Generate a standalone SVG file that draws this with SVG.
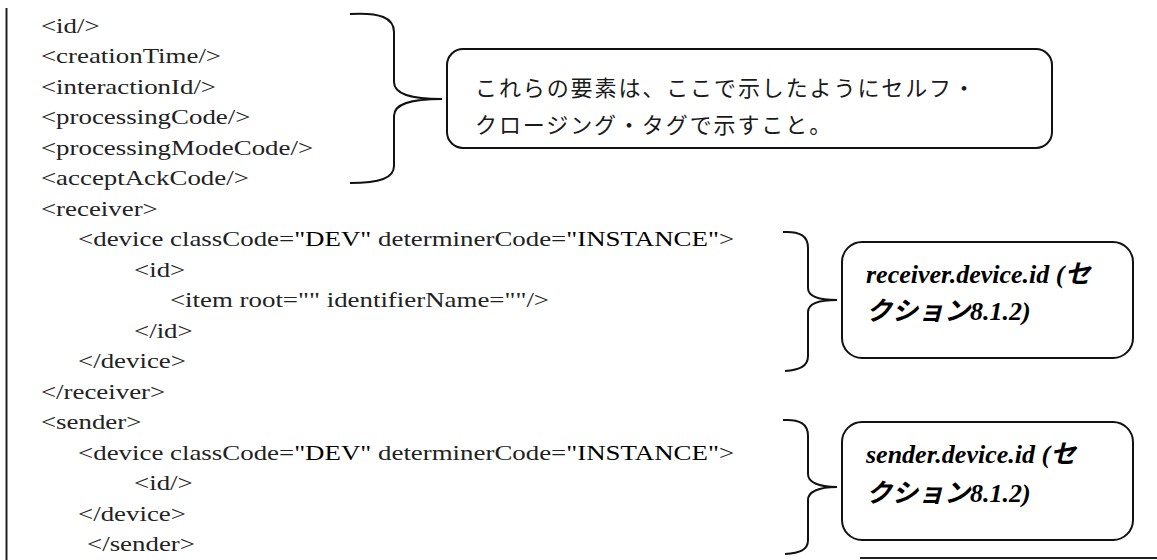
<svg xmlns="http://www.w3.org/2000/svg" width="1157" height="560" viewBox="0 0 1157 560">
  <style>
    .code { font-family: "Liberation Serif", "Times New Roman", serif; font-size: 21px; fill: #222; }
    .strong { fill: #000; }
    .box { fill: #fff; stroke: #111; stroke-width: 2; }
    .brace { fill: none; stroke: #111; stroke-width: 2; }
    .jp { font-family: "Noto Sans CJK JP", sans-serif; font-size: 22px; fill: #1a1a1a; letter-spacing: 1.9px; }
    .note { font-family: "Liberation Serif", "Noto Sans CJK JP", serif; font-size: 26px; font-weight: bold; font-style: italic; fill: #000; }
    .rule { stroke: #222; stroke-width: 2; fill: none; }
  </style>
  <rect width="1157" height="560" fill="#fff"/>
  <line class="rule" x1="6.5" y1="8" x2="6.5" y2="560"/>
  <line class="rule" x1="860" y1="558" x2="1157" y2="558" stroke-width="1.5"/>

  <g id="code" transform="scale(1.28 1)">
    <text class="code" x="32" y="33">&lt;id/&gt;</text>
    <text class="code" x="32" y="63.5">&lt;creationTime/&gt;</text>
    <text class="code" x="32" y="94">&lt;interactionId/&gt;</text>
    <text class="code" x="32" y="124.5">&lt;processingCode/&gt;</text>
    <text class="code" x="32" y="155">&lt;processingModeCode/&gt;</text>
    <text class="code" x="32" y="185.5">&lt;acceptAckCode/&gt;</text>
    <text class="code" x="32" y="216">&lt;receiver&gt;</text>
    <text class="code" x="61" y="246.5">&lt;device classCode=<tspan class="strong">"DEV"</tspan> determinerCode=<tspan class="strong">"INSTANCE"</tspan>&gt;</text>
    <text class="code" x="104.7" y="277">&lt;id&gt;</text>
    <text class="code" x="132.8" y="307.5">&lt;item root="" identifierName=""/&gt;</text>
    <text class="code" x="104.7" y="338">&lt;/id&gt;</text>
    <text class="code" x="61" y="368.5">&lt;/device&gt;</text>
    <text class="code" x="32" y="399">&lt;/receiver&gt;</text>
    <text class="code" x="32" y="429.5">&lt;sender&gt;</text>
    <text class="code" x="61" y="460">&lt;device classCode=<tspan class="strong">"DEV"</tspan> determinerCode=<tspan class="strong">"INSTANCE"</tspan>&gt;</text>
    <text class="code" x="104.7" y="490.5">&lt;id/&gt;</text>
    <text class="code" x="61" y="521">&lt;/device&gt;</text>
    <text class="code" x="68" y="551.5">&lt;/sender&gt;</text>
  </g>

  <g id="connectors">
    <path class="brace" d="M350,14 C380,12 394,18 394,32 L394,82 C394,94 410,99 442,99 C410,99 394,104 394,116 L394,166 C394,178 380,183 350,183"/>
    <path class="brace" d="M783,232 C800,231 808,236 808,248 L808,288 C808,296 818,300 837,300 C818,300 808,304 808,312 L808,356 C808,366 800,370 785,371"/>
    <path class="brace" d="M783,420 C800,419 808,424 808,436 L808,474 C808,482 818,487 837,487 C818,487 808,492 808,500 L808,540 C808,550 800,553 785,554"/>
  </g>

  <g id="note-selfclosing">
    <rect class="box" x="447" y="49" width="605" height="99" rx="16"/>
    <text class="jp" x="475" y="96">これらの要素は、ここで示したようにセルフ・</text>
    <text class="jp" x="475" y="133">クロージング・タグで示すこと。</text>
  </g>

  <g id="note-receiver">
    <rect class="box" x="842" y="242" width="291" height="116" rx="20"/>
    <text class="note" x="866" y="283">receiver.device.id (セ</text>
    <text class="note" x="866" y="320">クション8.1.2)</text>
  </g>

  <g id="note-sender">
    <rect class="box" x="842" y="422" width="291" height="118" rx="20"/>
    <text class="note" x="866" y="463">sender.device.id (セ</text>
    <text class="note" x="866" y="502">クション8.1.2)</text>
  </g>
</svg>
